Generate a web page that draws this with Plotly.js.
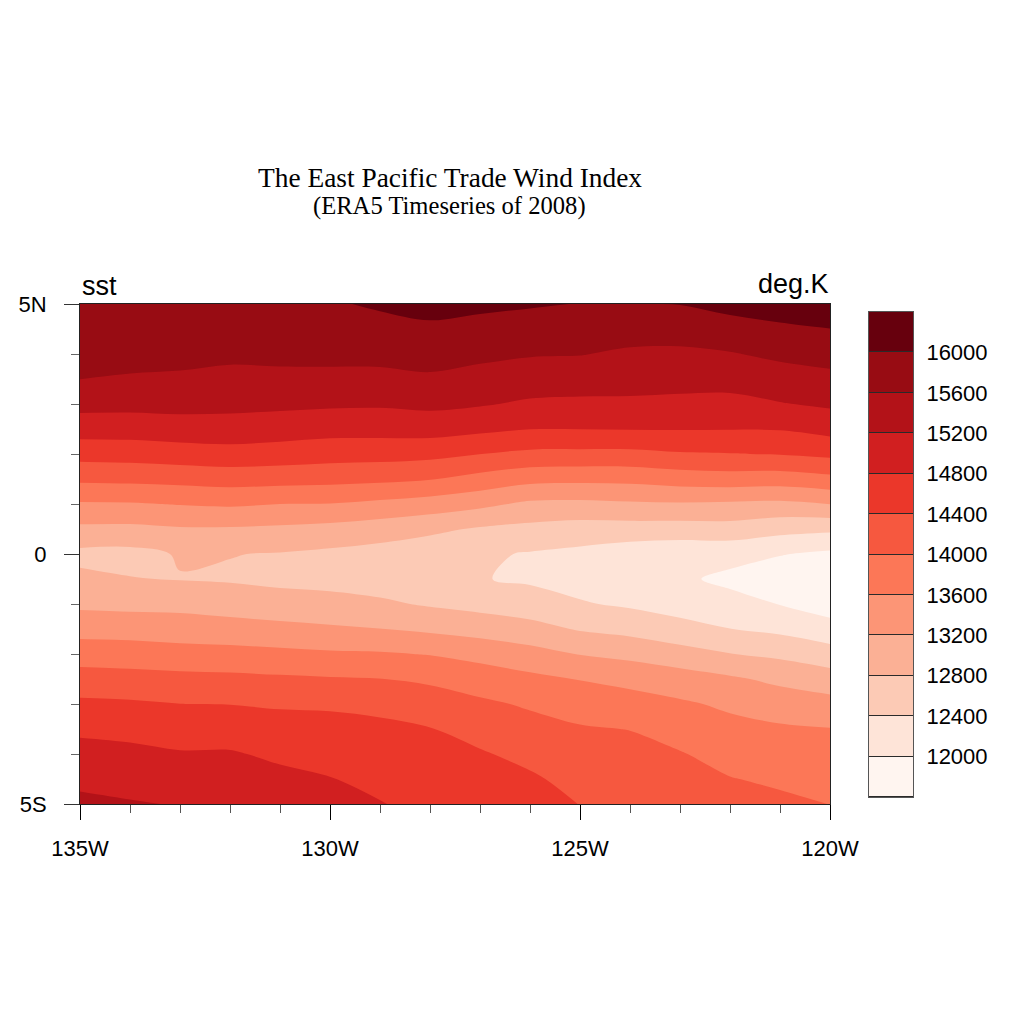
<!DOCTYPE html>
<html>
<head>
<meta charset="utf-8">
<script src="https://cdn.plot.ly/plotly-3.0.1.min.js"></script>
<style>
html,body{margin:0;padding:0;background:#fff;}
#chart{width:1024px;height:1024px;}
</style>
</head>
<body>
<div id="chart"></div>
<script>
// Longitudes (deg E, negative = W) and latitudes (from 5N down to 5S)
const lon = [-135,-134,-133,-132,-131,-130,-129,-128,-127,-126,-125,-124,-123,-122,-121,-120];
const latDesc = [5,4.5,4,3.5,3,2.5,2,1.5,1,0.5,0,-0.5,-1,-1.5,-2,-2.5,-3,-3.5,-4,-4.5,-5];

// sst values, one column per longitude, listed from 5N to 5S
const sstByLon = [
  [15950,15834,15718,15603,15324,14976,14545,14076,13561,13117,12700,12881,13119,13454,13821,14167,14476,14729,14930,15110,15290],
  [15950,15829,15707,15569,15313,14980,14565,14097,13570,13110,12680,12815,13094,13438,13800,14140,14452,14690,14892,15061,15230],
  [15950,15824,15698,15550,15322,15023,14609,14130,13620,13164,12830,12785,13093,13393,13758,14107,14404,14622,14832,15007,15180],
  [15930,15800,15670,15506,15302,15031,14651,14170,13653,13161,12810,12760,13031,13354,13736,14091,14394,14620,14835,15010,15170],
  [15930,15806,15682,15519,15281,14990,14618,14146,13600,13130,12780,12700,12976,13304,13698,14060,14358,14554,14732,14893,15040],
  [15960,15825,15689,15513,15256,14940,14563,14121,13589,13075,12720,12680,12927,13256,13654,14032,14349,14523,14669,14813,14940],
  [16050,15875,15705,15503,15246,14940,14551,14086,13509,12991,12650,12620,12862,13207,13637,14006,14309,14477,14587,14697,14807],
  [16120,15936,15747,15544,15287,14960,14513,14019,13417,12890,12540,12530,12759,13128,13581,13937,14191,14415,14527,14642,14757],
  [16080,15880,15686,15468,15233,14887,14405,13867,13297,12755,12460,12420,12673,13038,13475,13809,14070,14264,14437,14562,14687],
  [16035,15837,15629,15397,15146,14807,14314,13720,13122,12690,12370,12340,12588,12928,13344,13693,13953,14133,14296,14454,14604],
  [15990,15803,15615,15381,15123,14805,14303,13697,13105,12632,12300,12260,12433,12767,13183,13584,13831,14036,14157,14278,14390],
  [15980,15756,15542,15350,15130,14813,14303,13706,13146,12633,12180,12110,12344,12676,13093,13487,13761,13991,14120,14230,14330],
  [16010,15760,15529,15333,15107,14817,14366,13782,13166,12620,12120,12060,12252,12520,12962,13378,13656,13843,14024,14150,14280],
  [16121,15847,15576,15341,15089,14811,14389,13824,13141,12640,12120,11920,12120,12405,12810,13260,13534,13714,13865,14015,14150],
  [16190,15933,15677,15429,15179,14822,14416,13800,13110,12526,12020,11780,11990,12310,12720,13110,13417,13651,13794,13937,14080],
  [16245,15995,15745,15499,15258,14933,14490,13893,13205,12477,11920,11700,11820,12150,12570,12984,13335,13613,13743,13873,13995]
];

// contour levels and colours (one colour per band, lowest first)
const levels = [12000,12400,12800,13200,13600,14000,14400,14800,15200,15600,16000];
const bandColors = ['#fff5f0','#fee4d8','#fccab5','#fbb095','#fc9576','#fc7757','#f6583f','#eb372a','#d11f20','#b31218','#980c13','#67000d'];

// tick labels
const xTickVals = [-135,-130,-125,-120];
const xTickText = ['135W','130W','125W','120W'];
const yTickVals = [-5,0,5];
const yTickText = ['5S','0','5N'];

// ---- build structures ----
const lat = latDesc.slice().reverse();
const z = lat.map((la, i) => lon.map((lo, j) => sstByLon[j][latDesc.length - 1 - i]));
const step = levels[1] - levels[0];
const nb = bandColors.length;
const colorscale = bandColors.map((c, k) => [k / (nb - 1), c]);

const cbEdges = [levels[0] - step].concat(levels, [levels[levels.length - 1] + step]);
const cbZ = bandColors.map((c, k) => [k]);

const mainTrace = {
  type: 'contour',
  x: lon, y: lat, z: z,
  autocontour: false,
  contours: {start: levels[0], end: levels[levels.length - 1], size: step, coloring: 'fill', showlines: false},
  line: {width: 0, smoothing: 1},
  colorscale: colorscale,
  showscale: false,
  hoverinfo: 'skip',
  xaxis: 'x', yaxis: 'y'
};

const barTrace = {
  type: 'heatmap',
  x: [0], y: cbEdges, z: cbZ,
  zmin: 0, zmax: nb - 1,
  colorscale: colorscale,
  showscale: false,
  ygap: 1,
  hoverinfo: 'skip',
  xaxis: 'x2', yaxis: 'y2'
};

const W = 1024, H = 1024;
const mL = 80, mR = W - 913, mT = 304, mB = H - 804;
const pw = W - mL - mR, ph = H - mT - mB;
const px2fx = p => (p - mL) / pw;
const py2fy = p => (H - mB - p) / ph;

const tickFont = {family: 'Liberation Sans, Arial, Helvetica, sans-serif', size: 22, color: '#000'};

const layout = {
  width: W, height: H,
  margin: {l: mL, r: mR, t: mT, b: mB, pad: 0},
  paper_bgcolor: '#ffffff',
  plot_bgcolor: '#2a2a2a',
  showlegend: false,
  xaxis: {
    domain: [0, px2fx(830)],
    range: [-135, -120],
    tickmode: 'array', tickvals: xTickVals, ticktext: xTickText,
    ticks: 'outside', ticklen: 15, tickwidth: 1, tickcolor: '#000',
    minor: {tickmode: 'linear', tick0: -135, dtick: 1, ticks: 'outside', ticklen: 8, tickwidth: 1, tickcolor: '#555', showgrid: false},
    ticklabelstandoff: 10,
    showline: true, mirror: true, linecolor: '#222', linewidth: 1,
    showgrid: false, zeroline: false,
    tickfont: tickFont,
    anchor: 'y'
  },
  yaxis: {
    domain: [0, 1],
    range: [-5, 5],
    tickmode: 'array', tickvals: yTickVals, ticktext: yTickText,
    ticks: 'outside', ticklen: 15, tickwidth: 1, tickcolor: '#333',
    minor: {tickmode: 'linear', tick0: -5, dtick: 1, ticks: 'outside', ticklen: 8, tickwidth: 1, tickcolor: '#666', showgrid: false},
    ticklabelstandoff: 13,
    showline: true, mirror: true, linecolor: '#222', linewidth: 1,
    showgrid: false, zeroline: false,
    tickfont: tickFont,
    anchor: 'x'
  },
  xaxis2: {
    domain: [px2fx(869), 1],
    range: [-0.5, 0.5],
    showticklabels: false, ticks: '',
    showline: true, mirror: true, linecolor: '#555', linewidth: 1,
    showgrid: false, zeroline: false,
    anchor: 'y2', fixedrange: true
  },
  yaxis2: {
    domain: [py2fy(797), py2fy(312)],
    range: [cbEdges[0], cbEdges[cbEdges.length - 1]],
    side: 'right',
    tickmode: 'array', tickvals: levels, ticktext: levels.map(String),
    ticks: '', ticklabelstandoff: 8,
    showline: true, mirror: true, linecolor: '#555', linewidth: 1,
    showgrid: false, zeroline: false,
    tickfont: tickFont,
    anchor: 'x2', fixedrange: true
  },
  annotations: [
    {text: 'The East Pacific Trade Wind Index', xref: 'paper', yref: 'paper',
     x: px2fx(450), y: py2fy(178), xanchor: 'center', yanchor: 'middle', showarrow: false,
     font: {family: 'Liberation Serif, Times New Roman, serif', size: 27.4, color: '#000'}},
    {text: '(ERA5 Timeseries of 2008)', xref: 'paper', yref: 'paper',
     x: px2fx(449), y: py2fy(206), xanchor: 'center', yanchor: 'middle', showarrow: false,
     font: {family: 'Liberation Serif, Times New Roman, serif', size: 24.6, color: '#000'}},
    {text: 'sst', xref: 'paper', yref: 'paper',
     x: px2fx(80), y: py2fy(286), xanchor: 'left', yanchor: 'middle', showarrow: false,
     font: {family: 'Liberation Sans, Arial, Helvetica, sans-serif', size: 27, color: '#000'}},
    {text: 'deg.K', xref: 'paper', yref: 'paper',
     x: px2fx(831), y: py2fy(284), xanchor: 'right', yanchor: 'middle', showarrow: false,
     font: {family: 'Liberation Sans, Arial, Helvetica, sans-serif', size: 27, color: '#000'}}
  ]
};

Plotly.newPlot('chart', [mainTrace, barTrace], layout, {staticPlot: true, displayModeBar: false});
</script>
</body>
</html>
